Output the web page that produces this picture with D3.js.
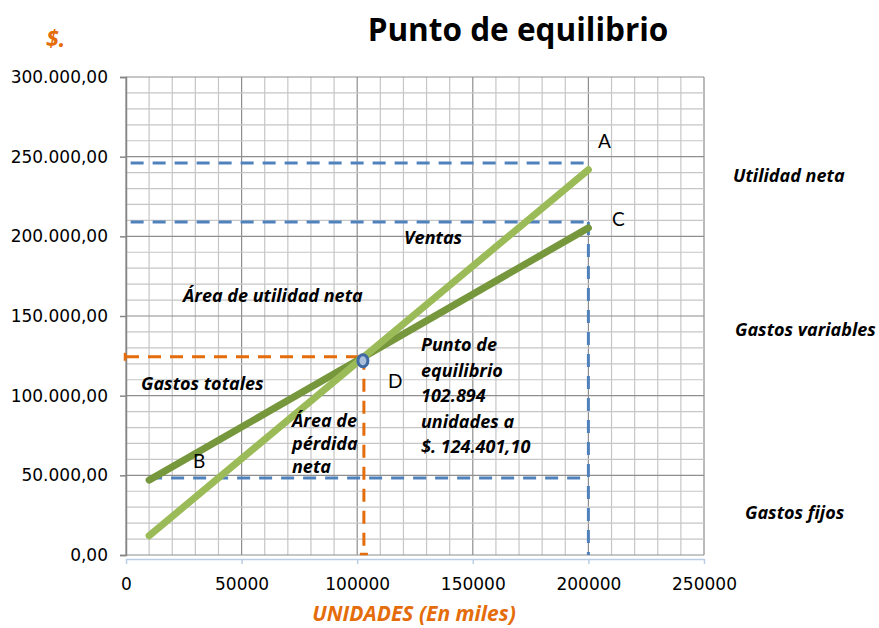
<!DOCTYPE html>
<html>
<head>
<meta charset="utf-8">
<script src="https://cdn.jsdelivr.net/npm/d3@7"></script>
<style>
  html, body { margin: 0; padding: 0; background: #fff; }
  svg { display: block; }
</style>
</head>
<body>
<svg id="chart" width="879" height="628"></svg>
<script>
// Units (thousands) and the two straight lines of the break-even chart
const units = [10000, 200000];
const ventas = [12100, 241800];          // sales revenue
const gastosTotales = [47000, 205300];   // total costs

// Break-even point
const equilibrioUnidades = 102894;
const equilibrioValor = 124401.10;

// Dashed reference levels
const refUtilidad = 246000;
const refVentas = 209000;
const refGastosFijos = 48300;
const refInicio = 2000;
const refFijosInicio = 10000;
const refFin = 200000;

// Axis ticks
const yTicks = [0, 50000, 100000, 150000, 200000, 250000, 300000];
const xTicks = [0, 50000, 100000, 150000, 200000, 250000];

const svg = d3.select("#chart");
const x = d3.scaleLinear().domain([0, 250000]).range([126, 704]);
const y = d3.scaleLinear().domain([0, 300000]).range([555, 77]);

const fmtY = v => d3.format(",.2f")(v).replace(/,/g, "#").replace(".", ",").replace(/#/g, ".");

// Grid: minor every 10 000, major every 50 000
const minorX = d3.range(0, 250001, 10000);
const minorY = d3.range(0, 300001, 10000);
const grid = svg.append("g");
grid.selectAll("line.vx").data(minorX).join("line")
  .attr("x1", d => x(d)).attr("x2", d => x(d))
  .attr("y1", y(0)).attr("y2", y(300000))
  .attr("stroke", d => d % 50000 === 0 ? "#8e8e8e" : "#c6c6c6")
  .attr("stroke-width", 1.2);
grid.selectAll("line.hy").data(minorY).join("line")
  .attr("y1", d => y(d)).attr("y2", d => y(d))
  .attr("x1", x(0)).attr("x2", x(250000))
  .attr("stroke", d => d % 50000 === 0 ? "#8e8e8e" : "#c6c6c6")
  .attr("stroke-width", 1.2);

// Y axis
const yAxis = svg.append("g").attr("transform", `translate(${x(0)},0)`)
  .call(d3.axisLeft(y).tickValues(yTicks).tickFormat(fmtY).tickSize(6).tickPadding(12));
yAxis.select(".domain").attr("stroke", "#868686").attr("stroke-width", 1.5);
yAxis.selectAll(".tick line").attr("stroke", "#868686").attr("stroke-width", 1.5);
yAxis.selectAll("text").attr("font-family", "DejaVu Sans").attr("font-size", 17).attr("fill", "#000");

// X axis (sits just below the plot area)
const xAxis = svg.append("g").attr("transform", `translate(0,${y(0) + 4})`)
  .call(d3.axisBottom(x).tickValues(xTicks).tickFormat(d3.format("d")).tickSize(5).tickSizeOuter(0).tickPadding(14));
xAxis.select(".domain").attr("stroke", "#b9cde5").attr("stroke-width", 1.5);
xAxis.selectAll(".tick line").attr("stroke", "#b9cde5").attr("stroke-width", 1.5);
xAxis.selectAll("text").attr("font-family", "DejaVu Sans").attr("font-size", 17).attr("fill", "#000");

// Dashed reference lines
const blue = "#4f81bd", orange = "#e46c0a";
const dash = (x1, y1, x2, y2, color) => svg.append("line")
  .attr("x1", x(x1)).attr("y1", y(y1)).attr("x2", x(x2)).attr("y2", y(y2))
  .attr("stroke", color).attr("stroke-width", 3).attr("stroke-dasharray", "13,9");

dash(refInicio, refUtilidad, refFin, refUtilidad, blue);
dash(refInicio, refVentas, refFin, refVentas, blue);
dash(refFin, refVentas, refFin, 0, blue);
dash(refFijosInicio, refGastosFijos, refFin, refGastosFijos, blue);
dash(0, equilibrioValor, equilibrioUnidades, equilibrioValor, orange);
dash(equilibrioUnidades, equilibrioValor, equilibrioUnidades, 0, orange);
// small end caps on the break-even guides
svg.append("line")
  .attr("x1", x(equilibrioUnidades) - 4).attr("x2", x(equilibrioUnidades) + 4)
  .attr("y1", y(0) - 1).attr("y2", y(0) - 1)
  .attr("stroke", orange).attr("stroke-width", 2.5);
svg.append("line")
  .attr("x1", x(0) - 1).attr("x2", x(0) - 1)
  .attr("y1", y(equilibrioValor) - 4).attr("y2", y(equilibrioValor) + 4)
  .attr("stroke", orange).attr("stroke-width", 2.5);

// Sales and total cost lines
const line = d3.line().x(d => x(d[0])).y(d => y(d[1]));
svg.append("path").datum(d3.zip(units, gastosTotales)).attr("d", line)
  .attr("fill", "none").attr("stroke", "#77973d").attr("stroke-width", 7).attr("stroke-linecap", "round");
svg.append("path").datum(d3.zip(units, ventas)).attr("d", line)
  .attr("fill", "none").attr("stroke", "#9bbb59").attr("stroke-width", 7).attr("stroke-linecap", "round");

// Break-even marker
svg.append("ellipse")
  .attr("cx", x(equilibrioUnidades) - 1).attr("cy", y(equilibrioValor) + 4)
  .attr("rx", 5).attr("ry", 6).attr("fill", "#a9bfdc").attr("stroke", "#3f6aa3").attr("stroke-width", 3);

// Title and axis captions
svg.append("text").attr("x", 518).attr("y", 41).attr("text-anchor", "middle")
  .attr("font-family", "Open Sans").attr("font-weight", "bold").attr("font-size", 31.5)
  .text("Punto de equilibrio");
svg.append("text").attr("x", 46).attr("y", 47)
  .attr("font-family", "Open Sans").attr("font-weight", "bold").attr("font-style", "italic")
  .attr("font-size", 23).attr("fill", orange).text("$.");
svg.append("text").attr("x", 414).attr("y", 621).attr("text-anchor", "middle")
  .attr("font-family", "Open Sans").attr("font-weight", "bold").attr("font-style", "italic")
  .attr("font-size", 21).attr("fill", orange).text("UNIDADES (En miles)");

// Annotations
const note = (tx, ty, lines, opts = {}) => {
  const t = svg.append("text").attr("x", tx).attr("y", ty)
    .attr("font-family", opts.regular ? "Lato" : "Open Sans")
    .attr("font-weight", opts.regular ? "normal" : "bold")
    .attr("font-style", opts.regular ? "normal" : "italic")
    .attr("font-size", opts.size || 18).attr("fill", "#000");
  lines.forEach((s, i) => t.append("tspan").attr("x", tx).attr("dy", i === 0 ? 0 : (opts.lh || 25)).text(s));
};
note(733, 182, ["Utilidad neta"]);
note(735, 336, ["Gastos variables"]);
note(745, 519, ["Gastos fijos"]);
note(404, 244, ["Ventas"]);
note(183, 302, ["Área de utilidad neta"]);
note(141, 390, ["Gastos totales"]);
note(292, 427, ["Área de", "pérdida", "neta"], { lh: 23 });
note(421, 351, ["Punto de", "equilibrio", "102.894", "unidades a", "$. 124.401,10"], { lh: 25.5 });
note(598, 148, ["A"], { regular: true, size: 19 });
note(193, 468, ["B"], { regular: true, size: 19 });
note(612, 226, ["C"], { regular: true, size: 19 });
note(388, 388, ["D"], { regular: true, size: 19 });
</script>
</body>
</html>
